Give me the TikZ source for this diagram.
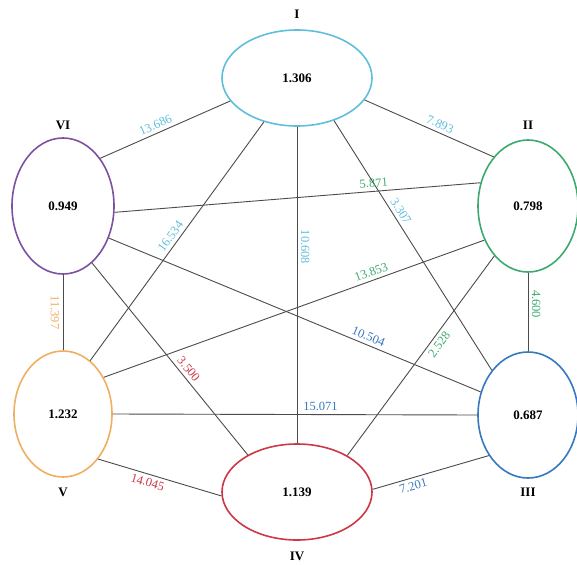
\documentclass[tikz,border=0pt]{standalone}
\usepackage{fontspec}
\setmainfont{Liberation Serif}
\usetikzlibrary{shapes}

\begin{document}
\begin{tikzpicture}[x=1pt,y=-1pt,
  state/.style={draw,ellipse,line width=1.6pt,inner sep=0pt,font=\bfseries\fontsize{13}{15}\selectfont},
  link/.style={color=linkGray,line width=0.9pt},
  weight/.style={sloped,inner sep=3.5pt,font=\fontsize{12.5}{14}\selectfont},
  tag/.style={font=\bfseries\fontsize{13}{15}\selectfont}]
\definecolor{linkGray}{RGB}{75,75,75}
\definecolor{iColor}{RGB}{95,190,220}
\definecolor{iiColor}{RGB}{60,170,110}
\definecolor{iiiColor}{RGB}{55,120,190}
\definecolor{ivColor}{RGB}{205,55,70}
\definecolor{vColor}{RGB}{240,175,95}
\definecolor{viColor}{RGB}{125,80,160}
\useasboundingbox (0,0) rectangle (577,564);
% the six ellipses
\node[state,draw=iColor,minimum width=150,minimum height=96] (I) at (297,78) {1.306};
\node[state,draw=iiColor,minimum width=100,minimum height=132] (II) at (528,206) {0.798};
\node[state,draw=iiiColor,minimum width=100,minimum height=126] (III) at (528,415) {0.687};
\node[state,draw=ivColor,minimum width=150,minimum height=96] (IV) at (297,492) {1.139};
\node[state,draw=vColor,minimum width=98,minimum height=126] (V) at (63,414) {1.232};
\node[state,draw=viColor,minimum width=102,minimum height=136] (VI) at (63,206) {0.949};
\node[tag] (tI) at (297,14) {I};
\node[tag] (tII) at (528,125) {II};
\node[tag] (tIII) at (528,492) {III};
\node[tag] (tIV) at (297,556) {IV};
\node[tag] (tV) at (63,492) {V};
\node[tag] (tVI) at (63,125) {VI};
% links with weights
\draw[link] (VI.52) -- node[weight,above,pos=0.45,color=iColor] {13.686} (I.199);
\draw[link] (I.342) -- node[weight,above,pos=0.56,color=iColor] {7.893} (II.125);
\draw[link] (I.233) -- node[weight,above,pos=0.5,color=iColor] {16.534} (V.63);
\draw[link] (I.south) -- node[weight,above,pos=0.38,color=iColor] {10.608} (IV.north);
\draw[link] (I.311) -- node[weight,above,pos=0.38,color=iColor] {3.307} (III.129);
\draw[link] (VI.353) -- node[weight,above,pos=0.71,color=iiColor] {5.871} (II.154);
\draw[link] (II.218) -- node[weight,above,pos=0.29,color=iiColor] {13.853} (V.42);
\draw[link] (II.236) -- node[weight,below,pos=0.42,color=iiColor] {2.528} (IV.36);
\draw[link] (II.south) -- node[weight,above,pos=0.4,color=iiColor] {4.600} (III.north);
\draw[link] (VI.325) -- node[weight,above,pos=0.69,color=iiiColor] {10.504} (III.154);
\draw[link] (V.east) -- node[weight,above,pos=0.57,color=iiiColor] {15.071} (III.west);
\draw[link] (IV.2) -- node[weight,below,pos=0.33,color=iiiColor] {7.201} (III.226);
\draw[link] (VI.297) -- node[weight,above,pos=0.58,color=ivColor] {3.500} (IV.143);
\draw[link] (V.308) -- node[weight,below,pos=0.42,color=ivColor] {14.045} (IV.183);
\draw[link] (VI.south) -- node[weight,below,pos=0.5,color=vColor] {11.397} (V.north);
\end{tikzpicture}
\end{document}
